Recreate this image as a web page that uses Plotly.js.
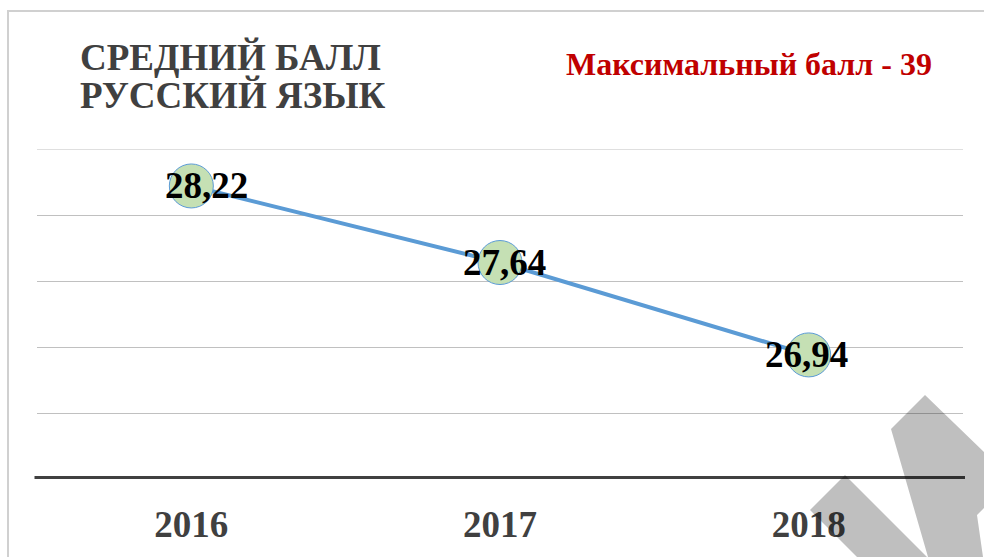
<!DOCTYPE html>
<html>
<head>
<meta charset="utf-8">
<script src="https://cdn.plot.ly/plotly-3.0.1.min.js"></script>
<style>html,body{margin:0;padding:0;background:#fff;}#chart{width:984px;height:557px;}</style>
</head>
<body>
<div id="chart"></div>
<script>
// Data
const years = ['2016', '2017', '2018'];
const scores = [28.22, 27.64, 26.94];
const titleLines = ['СРЕДНИЙ БАЛЛ', 'РУССКИЙ ЯЗЫК'];
const noteText = 'Максимальный балл - 39';
const yMin = 26, yMax = 28.5, yStep = 0.5;

const W = 984, H = 557;
const M = {l: 37, r: 21, t: 149, b: 78};
const PW = W - M.l - M.r, PH = H - M.t - M.b;
const px = x => (x - M.l) / PW;
const py = y => (H - M.b - y) / PH;
const serif = 'Liberation Serif, Times New Roman, serif';
const gridColor = '#C0C0C0';

const trace = {
  x: years, y: scores, type: 'scatter', mode: 'lines+markers',
  line: {color: '#5B9BD5', width: 4},
  marker: {size: 44, color: '#C5E0B4', line: {color: '#5B9BD5', width: 1}},
  hoverinfo: 'skip'
};

const labelShift = [15, 4, -2];
const annotations = scores.map((v, i) => ({
  x: i, y: v, xref: 'x', yref: 'y', showarrow: false,
  text: v.toFixed(2).replace('.', ','), xshift: labelShift[i],
  font: {family: serif, size: 37, color: '#000', weight: 'bold'}
}));
annotations.push(
  {xref: 'paper', yref: 'paper', x: px(78), y: py(57.5), xanchor: 'left', yanchor: 'middle', showarrow: false,
   text: titleLines[0], font: {family: serif, size: 37, color: '#404040', weight: 'bold'}},
  {xref: 'paper', yref: 'paper', x: px(78), y: py(95.5), xanchor: 'left', yanchor: 'middle', showarrow: false,
   text: titleLines[1], font: {family: serif, size: 37, color: '#404040', weight: 'bold'}},
  {xref: 'paper', yref: 'paper', x: px(748.5), y: py(63.5), xanchor: 'center', yanchor: 'middle', showarrow: false,
   text: noteText, font: {family: serif, size: 32, color: '#C00000', weight: 'bold'}}
);

function poly(pts) {
  return 'M' + pts.map(p => px(p[0]) + ',' + py(p[1])).join(' L') + ' Z';
}

const shapes = [
  // chart border
  {type: 'rect', xref: 'paper', yref: 'paper', x0: px(8), x1: px(1000), y0: py(11), y1: py(600),
   line: {color: '#D0D0D0', width: 2}, fillcolor: 'rgba(0,0,0,0)', layer: 'below'},
  // top gridline (Plotly drops grid lines at the range edge)
  {type: 'line', xref: 'paper', yref: 'y', x0: 0, x1: 1, y0: yMax, y1: yMax,
   line: {color: gridColor, width: 1}, layer: 'below'},
  // thick category axis line
  {type: 'line', xref: 'paper', yref: 'y', x0: px(34.5), x1: px(965), y0: yMin, y1: yMin,
   line: {color: '#404040', width: 6}, layer: 'above'},
  // watermark
  {type: 'path', xref: 'paper', yref: 'paper', layer: 'above', line: {width: 0}, fillcolor: 'rgba(0,0,0,0.25)',
   path: poly([[925,395],[984,452],[984,508],[977,515],[983,557],[928,557],[891,429]])},
  {type: 'path', xref: 'paper', yref: 'paper', layer: 'above', line: {width: 0}, fillcolor: 'rgba(0,0,0,0.25)',
   path: poly([[845,475],[927,557],[857,557],[810,510]])}
];

const layout = {
  width: W, height: H, margin: M,
  paper_bgcolor: '#fff', plot_bgcolor: '#fff',
  showlegend: false,
  xaxis: {type: 'category', range: [-0.5, 2.5], showgrid: false, zeroline: false, showline: false,
          ticks: '', ticklabelstandoff: 20,
          tickfont: {family: serif, size: 37, color: '#404040', weight: 'bold'}},
  yaxis: {range: [yMin, yMax], dtick: yStep, showticklabels: false,
          gridcolor: gridColor, gridwidth: 1, zeroline: false, showline: false},
  annotations: annotations,
  shapes: shapes
};

Plotly.newPlot('chart', [trace], layout, {displayModeBar: false, staticPlot: true});
</script>
</body>
</html>
